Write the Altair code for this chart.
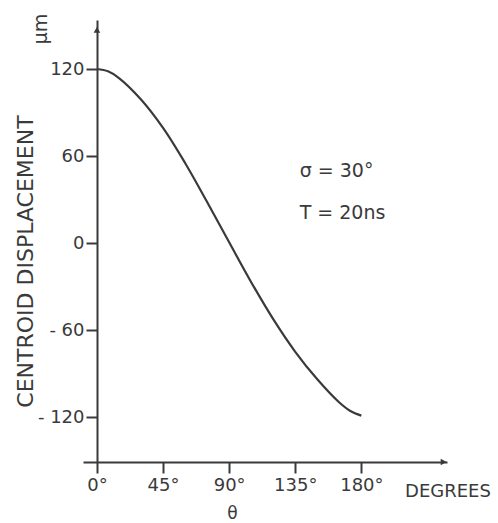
import altair as alt
import pandas as pd

# Centroid displacement (um) versus angle theta (degrees)
theta_deg = [0, 7.5, 15, 30, 45, 60, 75, 90, 105, 120, 135, 150, 165, 172.5, 180]
displacement_um = [120, 118.4, 113.8, 99, 79.4, 55.2, 28.3, 0.5, -27, -52.5, -75, -94, -110, -115.8, -119]

x_ticks = [0, 45, 90, 135, 180]
y_ticks = [-120, -60, 0, 60, 120]

notes = ["\u03c3 = 30\u00b0", "T = 20ns"]
note_theta = [138, 138]
note_value = [50, 21]

INK = "#3a3a3a"
FONT = "DejaVu Sans"

x_dom = [-9.5, 238.3]
y_dom = [-151, 153.8]

curve = pd.DataFrame({"theta": theta_deg, "disp": displacement_um})
note_df = pd.DataFrame({"label": notes, "theta": note_theta, "disp": note_value})

xs = alt.Scale(domain=x_dom, nice=False, zero=False)
ys = alt.Scale(domain=y_dom, nice=False, zero=False)

x_axis = alt.Axis(
    values=x_ticks,
    labelExpr="datum.value + '\u00b0'",
    title="\u03b8",
    titleFontSize=17,
    titleFont=FONT,
    titleFontWeight="normal",
    titleColor=INK,
    titleX=149,
    titleY=51,
    titleBaseline="middle",
    tickSize=11,
    tickWidth=2,
    tickColor=INK,
    domainColor=INK,
    domainWidth=2,
    labelFont=FONT,
    labelFontSize=18,
    labelColor=INK,
    labelPadding=3,
    grid=False,
)

y_axis = alt.Axis(
    values=y_ticks,
    labelExpr="datum.value < 0 ? '- ' + abs(datum.value) : '' + datum.value",
    title="CENTROID DISPLACEMENT",
    titleFontSize=22,
    titleFont=FONT,
    titleFontWeight="normal",
    titleColor=INK,
    titleAngle=270,
    titleBaseline="middle",
    titleX=-72,
    titleY=241,
    offset=-14,
    tickSize=11,
    tickWidth=2,
    tickColor=INK,
    domainColor=INK,
    domainWidth=2,
    labelFont=FONT,
    labelFontSize=18,
    labelColor=INK,
    labelPadding=2,
    grid=False,
)

line = alt.Chart(curve).mark_line(
    color=INK, strokeWidth=2.2, interpolate="catmull-rom"
).encode(
    x=alt.X("theta:Q", scale=xs, axis=x_axis),
    y=alt.Y("disp:Q", scale=ys, axis=y_axis),
)

ann = alt.Chart(note_df).mark_text(
    align="left", baseline="middle", font=FONT, fontSize=19, color=INK
).encode(
    x=alt.X("theta:Q", scale=xs),
    y=alt.Y("disp:Q", scale=ys),
    text="label:N",
)

# arrowheads at the ends of both axes
arrows = pd.DataFrame({"theta": [0, 236], "disp": [147, -151], "shape": ["triangle-up", "triangle-right"]})
heads = alt.Chart(arrows).mark_point(
    filled=True, color=INK, opacity=1, size=45
).encode(
    x=alt.X("theta:Q", scale=xs),
    y=alt.Y("disp:Q", scale=ys),
    shape=alt.Shape("shape:N", scale=None),
)

degrees = alt.Chart(pd.DataFrame({"t": ["DEGREES"]})).mark_text(
    align="center", baseline="middle", font=FONT, fontSize=18, color=INK
).encode(x=alt.value(365), y=alt.value(472), text="t:N")

unit = alt.Chart(pd.DataFrame({"t": ["\u03bcm"]})).mark_text(
    align="center", baseline="middle", font=FONT, fontSize=19, color=INK, angle=270
).encode(x=alt.value(-42), y=alt.value(9), text="t:N")

chart = alt.layer(line, ann, heads, degrees, unit).properties(
    width=364,
    height=442,
    padding={"left": 83, "top": 20, "right": 51, "bottom": 61},
    autosize=alt.AutoSizeParams(type="none"),
    background="white",
).configure_view(stroke=None)

chart.save("out.html", embed_options={"renderer": "svg", "actions": False})
